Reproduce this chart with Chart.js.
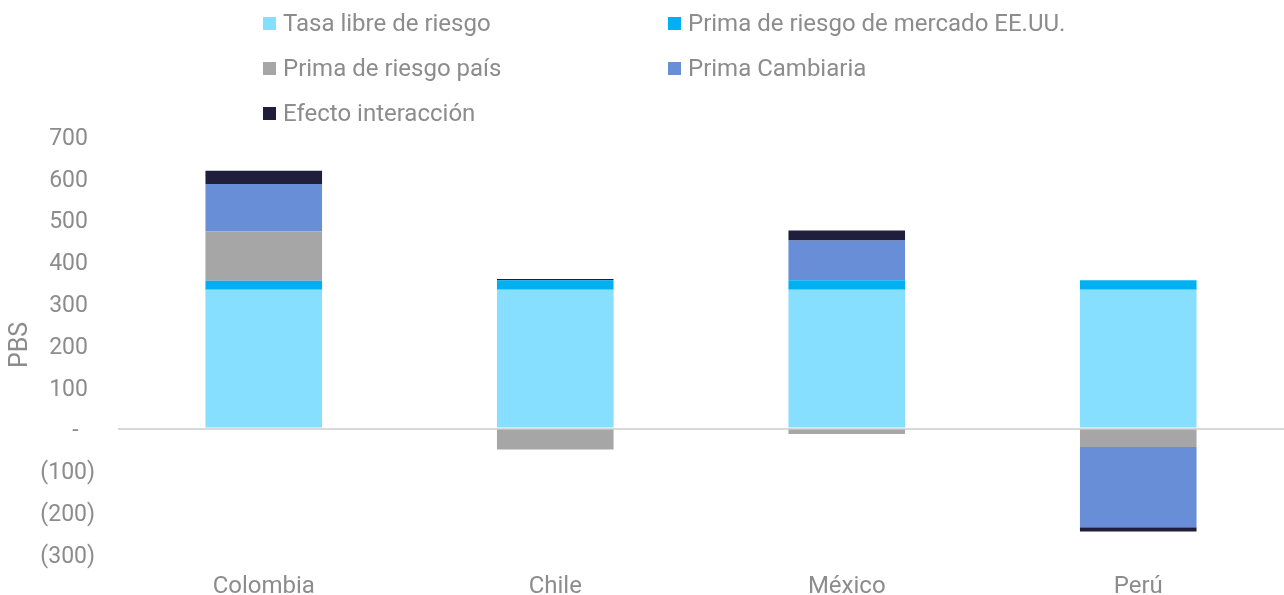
<!DOCTYPE html>
<html>
<head>
<meta charset="utf-8">
<script src="https://cdn.jsdelivr.net/npm/chart.js@4"></script>
<style>
  body { margin: 0; background: #fff; font-family: Roboto, sans-serif; overflow: hidden; }
  #wrap { position: relative; width: 1284px; height: 595px; }
  #grafico { display: block; }
  #leyenda { position: absolute; left: 263px; top: 8px; width: 900px; }
  .item { position: absolute; display: flex; align-items: center; height: 30px; color: #8c8c8c; font-size: 24px; white-space: nowrap; }
  .caja { width: 13px; height: 13px; margin-right: 7px; }
</style>
</head>
<body>
<div id="wrap">
  <canvas id="grafico" width="1284" height="595"></canvas>
  <div id="leyenda"></div>
</div>
<script>
const paises = ["Colombia", "Chile", "México", "Perú"];
const tasaLibre = [332, 332, 332, 332];
const primaMercado = [22, 23, 23, 23];
const primaPais = [118, -50, -13, -44];
const primaCambiaria = [113, 0, 95, -192];
const efectoInteraccion = [32, 3, 24, -10];

const series = [
  { label: "Tasa libre de riesgo", data: tasaLibre, color: "#86dfff" },
  { label: "Prima de riesgo de mercado EE.UU.", data: primaMercado, color: "#00b0f0" },
  { label: "Prima de riesgo país", data: primaPais, color: "#a6a6a6" },
  { label: "Prima Cambiaria", data: primaCambiaria, color: "#698ed8" },
  { label: "Efecto interacción", data: efectoInteraccion, color: "#1f1f3d" },
];

// formato contable: negativos entre paréntesis, cero como guion
function formato(v) {
  if (v === 0) return "-\u2002\u2009";
  if (v < 0) return "(" + Math.abs(v) + ")";
  return v + "\u2009\u200a";
}

function mostrarLeyenda() {
  const div = document.getElementById("leyenda");
  series.forEach((s, i) => {
    const el = document.createElement("div");
    el.className = "item";
    el.style.left = (i % 2 === 0 ? 0 : 405) + "px";
    el.style.top = Math.floor(i / 2) * 45 + "px";
    el.innerHTML = `<span class="caja" style="background:${s.color}"></span>${s.label}`;
    div.appendChild(el);
  });
}

function mostrarGrafico() {
  const ctx = document.getElementById("grafico").getContext("2d");
  new Chart(ctx, {
    type: "bar",
    data: {
      labels: paises,
      datasets: series.map((s) => ({
        label: s.label,
        data: s.data,
        backgroundColor: s.color,
        barPercentage: 0.4,
        categoryPercentage: 1,
      })),
    },
    options: {
      responsive: false,
      animation: false,
      layout: { padding: { top: 136, right: 0, bottom: 0, left: 0 } },
      plugins: { legend: { display: false }, tooltip: { enabled: false } },
      scales: {
        x: {
          stacked: true,
          grid: { display: false, drawTicks: false },
          border: { display: false },
          ticks: { color: "#8c8c8c", font: { family: "Roboto", size: 24 }, padding: 19 },
          afterFit: (scale) => { scale.height = 41; },
        },
        y: {
          stacked: true,
          min: -300,
          max: 700,
          border: { display: false },
          grid: {
            color: (c) => (c.tick && c.tick.value === 0 ? "#d9d9d9" : "rgba(0,0,0,0)"),
            lineWidth: 2,
            drawTicks: false,
          },
          ticks: {
            stepSize: 100,
            color: "#8c8c8c",
            font: { family: "Roboto", size: 23 },
            padding: 23,
            labelOffset: 3,
            callback: (v) => formato(v),
          },
          title: {
            display: true,
            text: "PBS",
            color: "#8c8c8c",
            font: { family: "Roboto", size: 25 },
            padding: { top: 6, bottom: 0 },
          },
          afterFit: (scale) => { scale.width = 118; },
        },
      },
    },
  });
}

mostrarLeyenda();
mostrarGrafico();
</script>
</body>
</html>
